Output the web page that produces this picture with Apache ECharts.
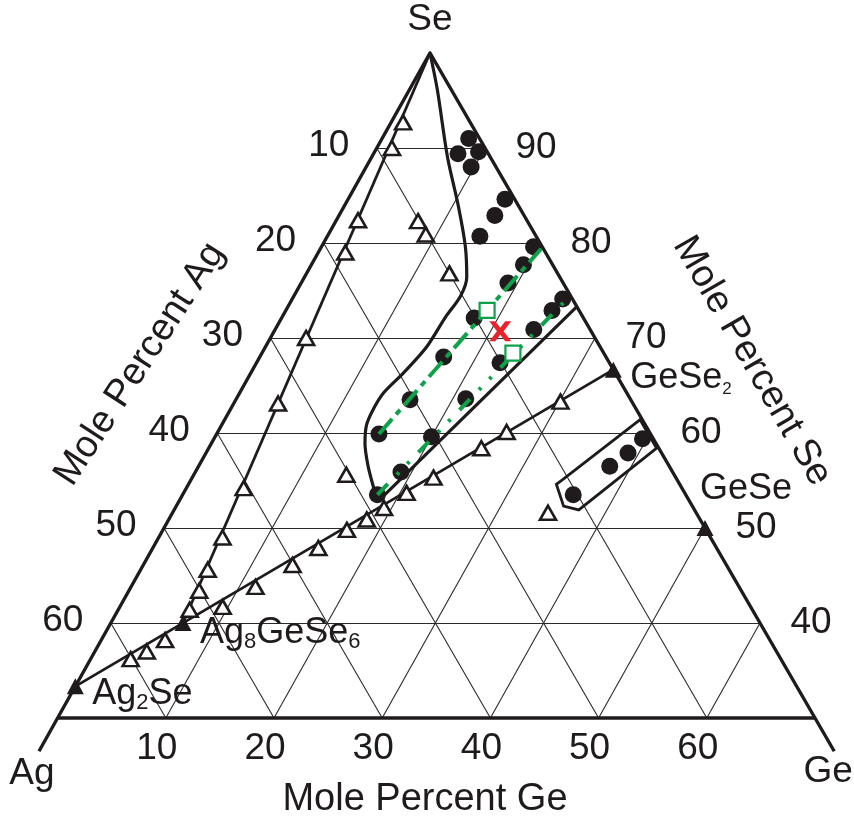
<!DOCTYPE html>
<html>
<head>
<meta charset="utf-8">
<script src="https://cdn.jsdelivr.net/npm/echarts@6/dist/echarts.min.js"></script>
<style>
  html, body { margin: 0; padding: 0; background: #fff; }
  #chart { width: 854px; height: 822px; }
</style>
</head>
<body>
<div id="chart"></div>
<script>
// all compositions are [Ge %, Se %]; Ag = 100 - Ge - Se
const agTicks = [10, 20, 30, 40, 50, 60];
const seTicks = [90, 80, 70, 60, 50, 40];
const geTicks = [10, 20, 30, 40, 50, 60];

// glass-forming compositions (filled circles)
const glassDots = [
  [8.0, 91.0], [7.8, 89.4], [9.6, 89.6], [9.7, 88.0],
  [14.5, 84.6], [14.4, 82.9], [14.1, 80.7],
  [19.6, 79.6], [19.6, 77.7], [19.1, 75.8], [17.8, 72.1], [17.0, 68.0], [16.1, 63.5], [15.0, 59.9],
  [25.0, 74.1], [24.6, 72.9], [23.9, 70.9], [22.5, 67.4], [21.2, 63.6], [20.0, 59.6], [19.0, 55.9], [18.0, 53.5],
  [39.6, 59.4], [39.0, 57.9], [38.0, 56.5], [36.1, 53.5]
];
// crystallised compositions (open triangles)
const crystalPts = [
  [1.1, 92.7], [1.4, 90.0], [2.0, 82.4], [2.5, 79.0], [3.3, 70.0], [4.1, 63.1],
  [5.3, 54.2], [5.9, 49.0], [6.2, 45.6], [6.5, 43.4], [6.6, 41.4],
  [3.7, 36.2], [4.8, 37.0], [5.9, 38.2], [9.5, 41.7], [11.5, 43.8], [13.8, 46.1], [15.3, 47.9],
  [17.0, 49.8], [18.3, 50.9], [19.3, 52.1], [20.6, 53.7], [22.3, 55.3], [25.2, 58.4], [26.7, 60.1], [30.1, 63.3],
  [14.1, 55.6], [34.7, 51.6], [7.6, 82.3], [9.0, 80.9], [13.2, 76.8]
];
// compounds (filled triangles)
const compoundNames = ['Ag{sub|2}Se', 'Ag{sub|8}GeSe{sub|6}', 'GeSe{sm|2}', 'GeSe'];
const compoundComps = [[0, 33.33], [6.67, 40], [33.33, 66.67], [50, 50]];

// phase boundaries / tie lines
const seToAg8 = [[0, 100], [6.67, 40]];
const ag2seToGese2 = [[0, 33.33], [33.33, 66.67]];
const glassCurve = [
  [0, 100], [2.6, 96.1], [7.0, 89.05], [10.6, 83.8], [13.3, 79.6], [15.0, 76.4], [15.4, 74.4],
  [15.1, 72.2], [14.9, 69.05], [14.1, 66.3], [13.3, 64.2], [13.2, 62.4], [13.4, 60.8],
  [14.2, 58.9], [15.6, 56.6], [17.1, 54.5], [18.4, 52.8]
];
const glassEdge = [[18.4, 52.8], [26.7, 73.3]];
const geseLoop = [[34.3, 55.05], [38.4, 61.4], [41.4, 58.4], [37.4, 51.9], [35.8, 52.3], [34.0, 54.6], [34.3, 55.05]];

// Ag - GeSe4 and Ag - GeSe3 sections (green)
const ge20Line = [[15.0, 59.9], [20.4, 79.4]];
const ge25Line = [[18.0, 53.5], [25.5, 74.4]];
const greenSquares = [[18.6, 72.9], [23.2, 68.4]];
const redCross = [[20.9, 70.7]];

const SE_MIN = 30;
const GE_STRETCH = 5.5 / 5.32; // Ge side is drawn slightly wider than the Ag side
const FONT = '"Liberation Sans", Arial, Helvetica, sans-serif';
const INK = '#1f1b1c';
const GREEN = '#0fa14a';

function toXY(p) {
  const ge = p[0], se = p[1], ag = 100 - ge - se;
  return [ge * GE_STRETCH - ag, se];
}

const gridSegs = [];
seTicks.forEach(s => gridSegs.push({ coords: [toXY([0, s]), toXY([100 - s, s])] }));
geTicks.forEach(g => gridSegs.push({ coords: [toXY([g, SE_MIN]), toXY([g, 100 - g])] }));
agTicks.forEach(a => gridSegs.push({ coords: [toXY([0, 100 - a]), toXY([70 - a, SE_MIN])] }));

const frameSegs = [
  { coords: [[0, 26.5], [0, 100], [73.5, 26.5]].map(toXY) },
  { coords: [[0, SE_MIN], [70, SE_MIN]].map(toXY) }
];

function polyLines(list, width, z) {
  return {
    type: 'lines', coordinateSystem: 'cartesian2d', polyline: true, silent: true, z,
    lineStyle: { color: INK, width, opacity: 1 },
    data: list.map(pts => ({ coords: pts.map(toXY) }))
  };
}

function tickLabels(points, names, offsets) {
  return {
    type: 'scatter', symbolSize: 1, silent: true, z: 10,
    itemStyle: { color: 'rgba(0,0,0,0)', opacity: 1 },
    label: {
      show: true, position: 'inside', formatter: '{b}', opacity: 1,
      fontSize: 37, fontFamily: FONT, color: INK
    },
    data: points.map((p, i) => ({
      name: names[i], value: toXY(p),
      label: { offset: Array.isArray(offsets[0]) ? offsets[i] : offsets }
    }))
  };
}

const compoundOffsets = [[17, 8], [17, 10], [17, 8], [-5, -39]];

const option = {
  animation: false,
  backgroundColor: '#fff',
  grid: { left: 430 - 5.32 * 78, width: 5.32 * 156, top: 53, height: 760 },
  xAxis: { type: 'value', min: -78, max: 78, show: false },
  yAxis: { type: 'value', min: 20, max: 100, show: false },
  graphic: [
    { type: 'text', x: 425, y: 800, style: { text: 'Mole Percent Ge', fontSize: 38, fontFamily: FONT, fill: INK, align: 'center', verticalAlign: 'middle' } },
    { type: 'text', x: 140, y: 364, rotation: 57 * Math.PI / 180, style: { text: 'Mole Percent Ag', fontSize: 38, fontFamily: FONT, fill: INK, align: 'center', verticalAlign: 'middle' } },
    { type: 'text', x: 752, y: 361, rotation: -60 * Math.PI / 180, style: { text: 'Mole Percent Se', fontSize: 38, fontFamily: FONT, fill: INK, align: 'center', verticalAlign: 'middle' } }
  ],
  series: [
    {
      type: 'lines', coordinateSystem: 'cartesian2d', silent: true, z: 1,
      lineStyle: { color: '#2a2a2a', width: 1.1, opacity: 1 },
      data: gridSegs
    },
    {
      type: 'lines', coordinateSystem: 'cartesian2d', polyline: true, silent: true, z: 2,
      lineStyle: { color: INK, width: 3.4, opacity: 1 },
      data: frameSegs
    },
    polyLines([seToAg8, ag2seToGese2, geseLoop], 2.8, 2),
    polyLines([glassEdge], 3.2, 2),
    {
      type: 'line', silent: true, z: 2, symbol: 'none', smooth: 0.3,
      lineStyle: { color: INK, width: 3.2, opacity: 1 },
      data: glassCurve.map(toXY)
    },
    {
      type: 'scatter', silent: true, z: 3, symbol: 'triangle', symbolSize: [16, 14],
      itemStyle: { color: '#fff', borderColor: INK, borderWidth: 2.6, opacity: 1 },
      data: crystalPts.map(toXY)
    },
    {
      type: 'scatter', silent: true, z: 3, symbol: 'circle', symbolSize: 17,
      itemStyle: { color: INK, opacity: 1 },
      data: glassDots.map(toXY)
    },
    {
      type: 'scatter', silent: true, z: 3, symbol: 'triangle', symbolSize: [17, 16],
      itemStyle: { color: INK, opacity: 1 },
      label: {
        show: true, position: 'inside', align: 'left', verticalAlign: 'middle', opacity: 1,
        formatter: p => compoundNames[p.dataIndex],
        rich: {
          sub: { fontSize: 22, lineHeight: 12, verticalAlign: 'bottom', fontFamily: FONT, color: INK },
          sm: { fontSize: 17, lineHeight: 10, verticalAlign: 'bottom', fontFamily: FONT, color: INK }
        },
        fontSize: 36, lineHeight: 40, fontFamily: FONT, color: INK
      },
      data: compoundComps.map((c, i) => ({ value: toXY(c), label: { offset: compoundOffsets[i] } }))
    },
    {
      type: 'lines', coordinateSystem: 'cartesian2d', silent: true, z: 4,
      lineStyle: { color: GREEN, width: 4, opacity: 1, type: [20, 6, 6, 6] },
      data: [{ coords: ge20Line.map(toXY) }]
    },
    {
      type: 'lines', coordinateSystem: 'cartesian2d', silent: true, z: 4,
      lineStyle: { color: GREEN, width: 4, opacity: 1, type: [15, 13, 3, 12, 3, 13] },
      data: [{ coords: ge25Line.map(toXY) }]
    },
    {
      type: 'scatter', silent: true, z: 5, symbol: 'rect', symbolSize: 15,
      itemStyle: { color: '#fff', borderColor: GREEN, borderWidth: 2.2, opacity: 1 },
      data: greenSquares.map(toXY)
    },
    {
      type: 'scatter', silent: true, z: 5,
      symbol: 'path://M0,0 L5.5,0 L10,6.5 L14.5,0 L20,0 L13,10 L20,20 L14.5,20 L10,13.5 L5.5,20 L0,20 L7,10 Z',
      symbolSize: [22, 20],
      itemStyle: { color: '#e8232b', opacity: 1 },
      data: redCross.map(toXY)
    },
    tickLabels(agTicks.map(a => [0, 100 - a]), agTicks.map(String), [-48, -2]),
    tickLabels(seTicks.map(s => [100 - s, s]), seTicks.map(String), [51, 0]),
    tickLabels(geTicks.map(g => [g, SE_MIN]), geTicks.map(String), [-9, 31]),
    tickLabels([[0, 26.5], [73.5, 26.5], [0, 100]], ['Ag', 'Ge', 'Se'], [[-7, 23], [-6, 21], [0, -33]])
  ]
};

const chart = echarts.init(document.getElementById('chart'));
chart.setOption(option);
</script>
</body>
</html>
